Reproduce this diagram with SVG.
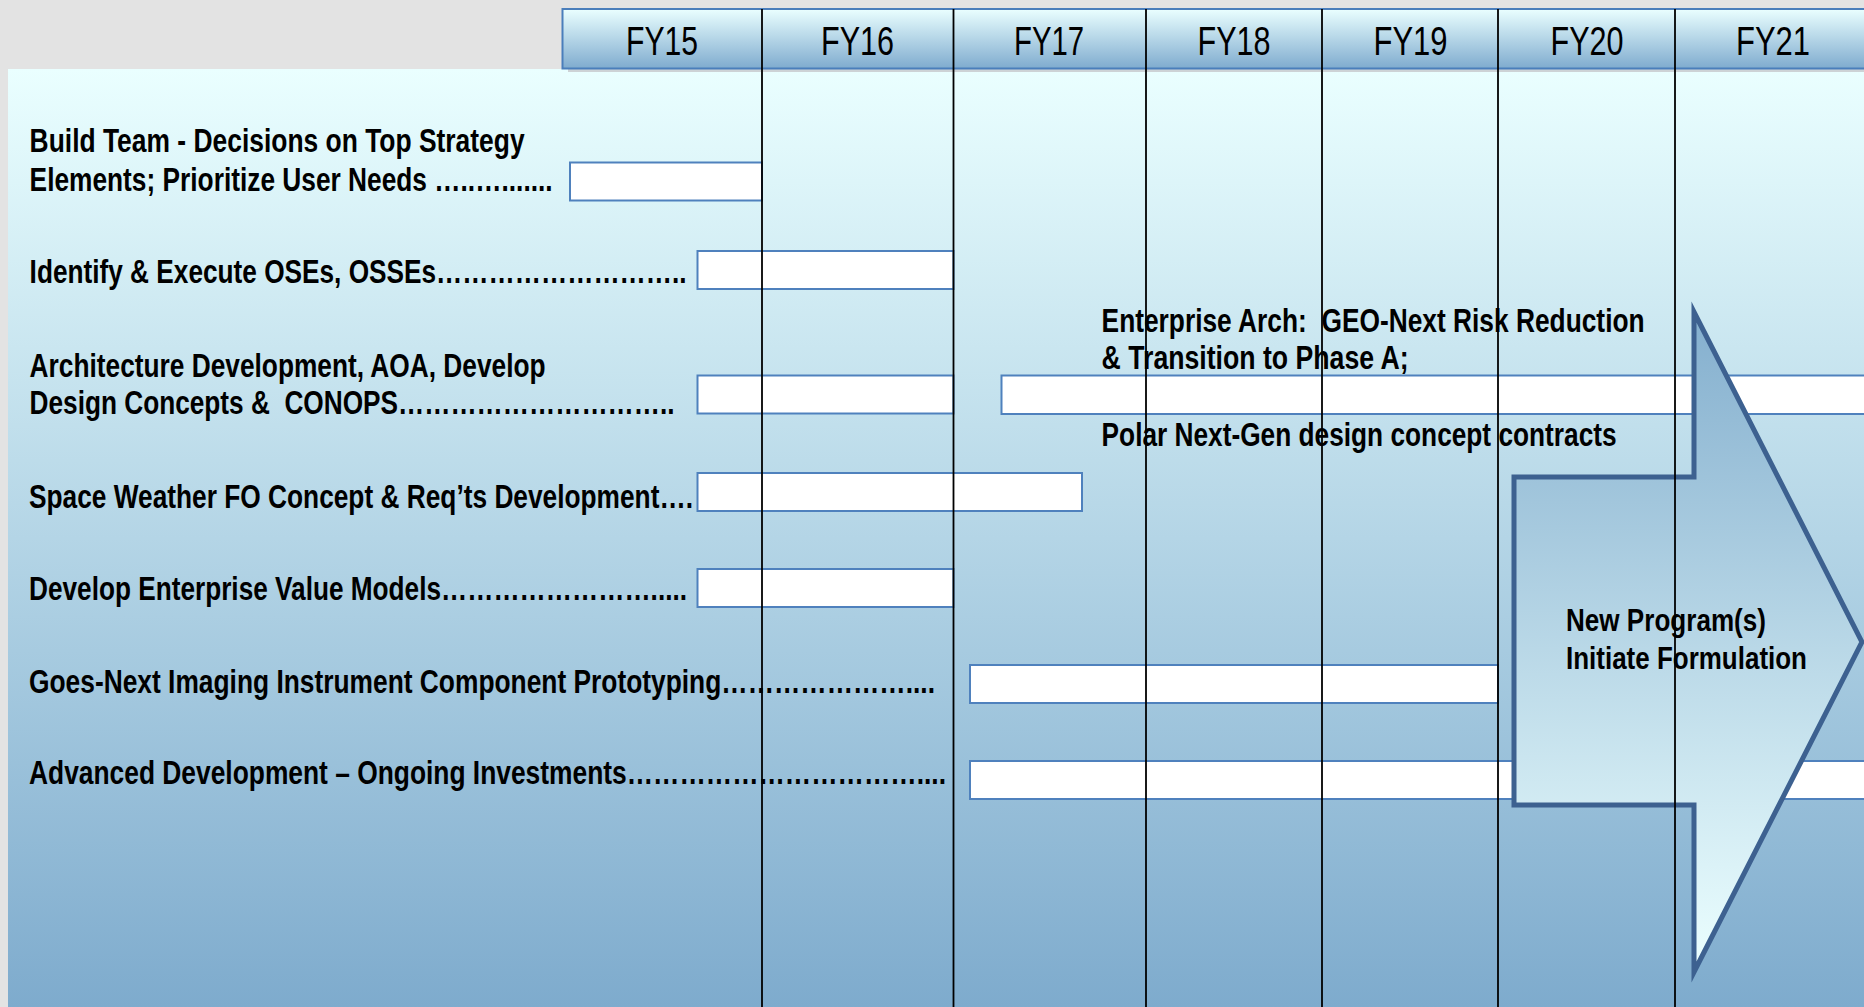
<svg xmlns="http://www.w3.org/2000/svg" width="1864" height="1007" viewBox="0 0 1864 1007">
<defs>
<linearGradient id="panelGrad" x1="0" y1="69" x2="0" y2="1007" gradientUnits="userSpaceOnUse">
<stop offset="0" stop-color="#eaffff"/>
<stop offset="1" stop-color="#7eabcd"/>
</linearGradient>
<linearGradient id="headGrad" x1="0" y1="9" x2="0" y2="68" gradientUnits="userSpaceOnUse">
<stop offset="0" stop-color="#eaffff"/>
<stop offset="1" stop-color="#80accf"/>
</linearGradient>
<linearGradient id="arrowGrad" x1="0" y1="312" x2="0" y2="972" gradientUnits="userSpaceOnUse">
<stop offset="0" stop-color="#84afce"/>
<stop offset="1" stop-color="#ecffff"/>
</linearGradient>
</defs>
<style>
.lbl{font-family:"Liberation Sans",Arial,sans-serif;font-weight:bold;font-size:32.5px;fill:#000;white-space:pre}
.lbl2{font-family:"Liberation Sans",Arial,sans-serif;font-weight:bold;font-size:31px;fill:#000;white-space:pre}
.fy{font-family:"Liberation Sans",Arial,sans-serif;font-size:40px;fill:#000;text-anchor:middle}
.bar{fill:#fff;stroke:#4f81bd;stroke-width:2}
.grid{stroke:#000;stroke-width:1.8}
</style>
<rect x="0" y="0" width="1864" height="1007" fill="#e3e3e3"/>
<rect id="panel" x="8" y="69" width="1860" height="942" fill="url(#panelGrad)"/>
<g id="header">
<rect x="568" y="69" width="1300" height="3" fill="#cdd3d6"/>
<rect x="562.5" y="9" width="1310" height="59.5" fill="url(#headGrad)" stroke="#4a7ebb" stroke-width="2"/>
<text class="fy" x="662" y="55" textLength="72" lengthAdjust="spacingAndGlyphs">FY15</text>
<text class="fy" x="857.5" y="55" textLength="73" lengthAdjust="spacingAndGlyphs">FY16</text>
<text class="fy" x="1049" y="55" textLength="70" lengthAdjust="spacingAndGlyphs">FY17</text>
<text class="fy" x="1234" y="55" textLength="73" lengthAdjust="spacingAndGlyphs">FY18</text>
<text class="fy" x="1410.5" y="55" textLength="74" lengthAdjust="spacingAndGlyphs">FY19</text>
<text class="fy" x="1587" y="55" textLength="73" lengthAdjust="spacingAndGlyphs">FY20</text>
<text class="fy" x="1773" y="55" textLength="74" lengthAdjust="spacingAndGlyphs">FY21</text>
</g>
<g id="task-build-team">
<rect class="bar" x="570" y="162.5" width="192" height="38"/>
<text class="lbl" x="29.6" y="151.7" textLength="495" lengthAdjust="spacingAndGlyphs">Build Team - Decisions on Top Strategy</text>
<text class="lbl" x="29.6" y="190.5" textLength="523" lengthAdjust="spacingAndGlyphs">Elements; Prioritize User Needs …..….......</text>
</g>
<g id="task-oses">
<rect class="bar" x="697.5" y="251" width="256" height="38"/>
<text class="lbl" x="29.6" y="283" textLength="657" lengthAdjust="spacingAndGlyphs">Identify &amp; Execute OSEs, OSSEs………………………..</text>
</g>
<g id="task-architecture">
<rect class="bar" x="697.5" y="375.5" width="256" height="38"/>
<text class="lbl" x="29.6" y="377" textLength="516" lengthAdjust="spacingAndGlyphs">Architecture Development, AOA, Develop</text>
<text class="lbl" x="29.6" y="414" textLength="645" lengthAdjust="spacingAndGlyphs">Design Concepts &amp;  CONOPS…………………………..</text>
</g>
<g id="task-enterprise-arch">
<rect class="bar" x="1001.5" y="375.5" width="900" height="38.5"/>
<text class="lbl" x="1101.6" y="331.7" textLength="543" lengthAdjust="spacingAndGlyphs">Enterprise Arch:  GEO-Next Risk Reduction</text>
<text class="lbl" x="1101.6" y="369.3" textLength="307" lengthAdjust="spacingAndGlyphs">&amp; Transition to Phase A;</text>
<text class="lbl" x="1101.6" y="445.5" textLength="515" lengthAdjust="spacingAndGlyphs">Polar Next-Gen design concept contracts</text>
</g>
<g id="task-space-weather">
<rect class="bar" x="697.5" y="473" width="384.5" height="38"/>
<text class="lbl" x="29" y="508.3" textLength="664" lengthAdjust="spacingAndGlyphs">Space Weather FO Concept &amp; Req’ts Development….</text>
</g>
<g id="task-value-models">
<rect class="bar" x="697.5" y="569" width="256" height="38"/>
<text class="lbl" x="29" y="600" textLength="658" lengthAdjust="spacingAndGlyphs">Develop Enterprise Value Models…………………….....</text>
</g>
<g id="task-goes-next">
<rect class="bar" x="970" y="665" width="528" height="38"/>
<text class="lbl" x="29" y="692.7" textLength="906" lengthAdjust="spacingAndGlyphs">Goes-Next Imaging Instrument Component Prototyping…………………....</text>
</g>
<g id="task-advanced-dev">
<rect class="bar" x="970" y="761" width="950" height="38"/>
<text class="lbl" x="29" y="784.3" textLength="917" lengthAdjust="spacingAndGlyphs">Advanced Development – Ongoing Investments……………………………....</text>
</g>
<g id="new-programs-arrow">
<path d="M1514,477 L1694,477 L1694,312 L1862,642 L1694,972 L1694,805 L1514,805 Z" fill="url(#arrowGrad)" stroke="#3d6190" stroke-width="5" stroke-linejoin="miter" stroke-miterlimit="10"/>
<text class="lbl2" x="1566" y="631.2" textLength="200" lengthAdjust="spacingAndGlyphs">New Program(s)</text>
<text class="lbl2" x="1566" y="668.5" textLength="241" lengthAdjust="spacingAndGlyphs">Initiate Formulation</text>
</g>
<g id="connectors">
<line class="grid" x1="762" y1="9" x2="762" y2="1007"/>
<line class="grid" x1="953.5" y1="9" x2="953.5" y2="1007"/>
<line class="grid" x1="1146" y1="9" x2="1146" y2="1007"/>
<line class="grid" x1="1322" y1="9" x2="1322" y2="1007"/>
<line class="grid" x1="1498" y1="9" x2="1498" y2="1007"/>
<line class="grid" x1="1675" y1="9" x2="1675" y2="1007"/>
</g>
</svg>
